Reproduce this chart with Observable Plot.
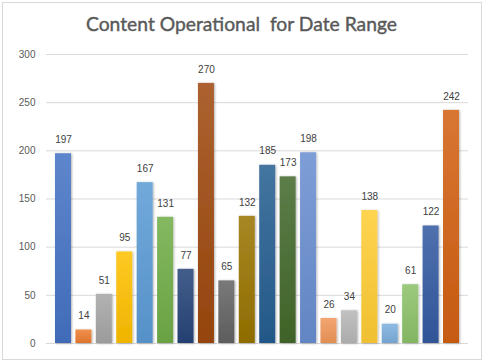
<!DOCTYPE html>
<html><head><meta charset="utf-8">
<script src="https://cdn.jsdelivr.net/npm/d3@7"></script>
<script src="https://cdn.jsdelivr.net/npm/@observablehq/plot@0.6"></script>
<style>
body{margin:0;background:#fff;}
#chart{position:relative;width:485px;height:362px;overflow:hidden;}
#frame{position:absolute;left:2px;top:2px;width:480px;height:358px;border:1px solid #d9d9d9;box-sizing:border-box;pointer-events:none;}
#title{height:42px;box-sizing:border-box;padding-top:14px;line-height:20px;text-align:center;white-space:pre;font-family:Lato,"Open Sans",sans-serif;font-size:19.3px;color:#595959;-webkit-text-stroke:0.4px #595959;padding-right:2px;}
svg{display:block;}
</style>
</head><body>
<div id="chart"><div id="frame"></div><div id="title">Content Operational  for Date Range</div></div>
<script>
const categories = ["1","2","3","4","5","6","7","8","9","10","11","12","13","14","15","16","17","18","19","20"];
const values = [197,14,51,95,167,131,77,270,65,132,185,173,198,26,34,138,20,61,122,242];
const barColors = ["#4472C4","#ED7D31","#A5A5A5","#FFC000","#5B9BD5","#70AD47","#264478","#9E480E","#636363","#997300","#255E91","#43682B","#698ED0","#F1975A","#B7B7B7","#FFCD33","#7CAFDD","#8CC168","#335AA1","#D26012"];
const yTicks = [0,50,100,150,200,250,300];

const data = categories.map((c,i)=>({cat:c, value:values[i], fill:`url(#grad${i})`}));

const plot = Plot.plot({
  width: 485,
  height: 320,
  marginTop: 12,
  marginBottom: 19,
  marginLeft: 46,
  marginRight: 17,
  style: {fontFamily: "'Liberation Sans', Arial, sans-serif", fontSize: "10px", color: "#595959", background: "transparent"},
  x: {domain: categories, paddingInner: 0.2165, paddingOuter: 0.44, round: false, axis: null},
  y: {domain: [0,300], ticks: yTicks},
  color: {type: "identity"},
  marks: [
    Plot.gridY(yTicks, {stroke: "#D9D9D9", strokeOpacity: 1}),
    Plot.axisY(yTicks, {tickSize: 0, tickPadding: 11, label: null, fill: "#595959"}),
    Plot.barY(data, {x: "cat", y: "value", fill: "fill"}),
    Plot.text(data, {x: "cat", y: "value", text: d => String(d.value), dy: -14, fill: "#404040", fontSize: 10})
  ]
});

const svg = d3.select(plot);
const defs = svg.insert("defs", ":first-child");
barColors.forEach((c,i)=>{
  const g = defs.append("linearGradient").attr("id", `grad${i}`).attr("x1",0).attr("y1",0).attr("x2",0).attr("y2",1);
  g.append("stop").attr("offset","0%").attr("stop-color", d3.interpolateRgb(c, "#ffffff")(0.14));
  g.append("stop").attr("offset","100%").attr("stop-color", d3.color(c).darker(0.18).formatHex());
});
const f = defs.append("filter").attr("id","shadow").attr("x","-30%").attr("y","-10%").attr("width","160%").attr("height","130%");
f.append("feDropShadow").attr("dx",1).attr("dy",0.5).attr("stdDeviation",1.2).attr("flood-color","#000").attr("flood-opacity",0.3);
svg.selectAll("g[aria-label='bar'] rect").attr("filter","url(#shadow)");

document.getElementById("chart").appendChild(plot);
</script>
</body></html>
